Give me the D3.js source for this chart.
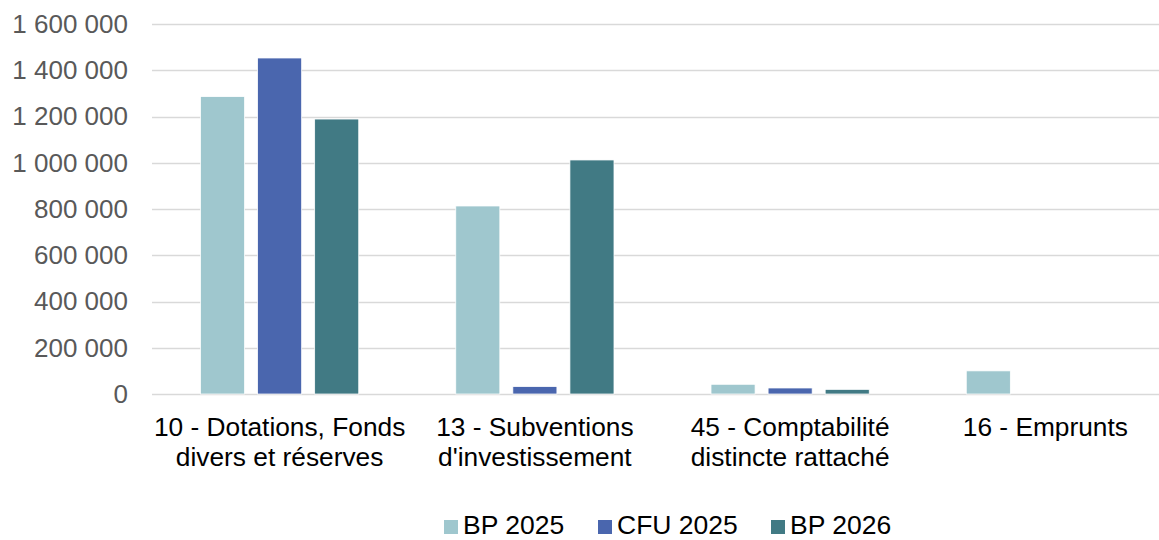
<!DOCTYPE html>
<html>
<head>
<meta charset="utf-8">
<script src="https://cdn.jsdelivr.net/npm/d3@7"></script>
<style>
  body { margin: 0; background: #fff; }
  text { font-family: "Liberation Sans", Arial, sans-serif; }
</style>
</head>
<body>
<div id="chart"></div>
<script>
const categories = [
  ["10 - Dotations, Fonds", "divers et réserves"],
  ["13 - Subventions", "d'investissement"],
  ["45 - Comptabilité", "distincte rattaché"],
  ["16 - Emprunts"]
];
const series = ["BP 2025", "CFU 2025", "BP 2026"];
const colors = ["#9fc7ce", "#4a66ae", "#417a84"];
const bp2025 = [1286000, 813000, 42000, 100000];
const cfu2025 = [1453000, 32000, 26000, 0];
const bp2026 = [1189000, 1012000, 20000, 0];
const yTicks = [0, 200000, 400000, 600000, 800000, 1000000, 1200000, 1400000, 1600000];

const values = [bp2025, cfu2025, bp2026];
const width = 1159, height = 540;

const svg = d3.select("#chart")
  .append("svg")
  .attr("width", width)
  .attr("height", height);

const x0 = d3.scaleBand()
  .domain(d3.range(categories.length))
  .range([152, 1173]);

const x1 = d3.scaleBand()
  .domain(d3.range(series.length))
  .range([0, x0.bandwidth()])
  .paddingInner(0.228)
  .paddingOuter(0.85);

const y = d3.scaleLinear()
  .domain([0, 1600000])
  .range([394, 24]);

const locale = d3.formatLocale({ decimal: ",", thousands: " ", grouping: [3], currency: ["", " €"] });
const fmt = locale.format(",d");

// gridlines
svg.append("g")
  .selectAll("line")
  .data(yTicks)
  .enter()
  .append("line")
  .attr("x1", 152)
  .attr("x2", width)
  .attr("y1", d => Math.round(y(d)) + 0.5)
  .attr("y2", d => Math.round(y(d)) + 0.5)
  .attr("stroke", "#d9d9d9")
  .attr("stroke-width", 1.5);

// y axis labels
const yAxis = svg.append("g")
  .attr("transform", "translate(128,0)")
  .call(d3.axisLeft(y).tickValues(yTicks).tickFormat(fmt).tickSize(0).tickPadding(0));
yAxis.select(".domain").remove();
yAxis.selectAll("text")
  .attr("fill", "#595959")
  .style("font-size", "26px")
  .style("font-family", "'Liberation Sans', Arial, sans-serif");

// bars
series.forEach((s, si) => {
  svg.append("g")
    .selectAll("rect")
    .data(values[si])
    .enter()
    .append("rect")
    .attr("x", (d, i) => x0(i) + x1(si))
    .attr("width", x1.bandwidth())
    .attr("y", d => y(d))
    .attr("height", d => y(0) - y(d))
    .attr("fill", colors[si])
    .attr("stroke", d => d > 0 ? "#fff" : "none")
    .attr("stroke-width", 0.75);
});

// category labels
const catG = svg.append("g");
categories.forEach((lines, i) => {
  const t = catG.append("text")
    .attr("x", x0(i) + x0.bandwidth() / 2)
    .attr("y", 436)
    .attr("text-anchor", "middle")
    .attr("fill", "#000")
    .style("font-size", "26.3px");
  lines.forEach((l, li) => {
    t.append("tspan")
      .attr("x", x0(i) + x0.bandwidth() / 2)
      .attr("dy", li === 0 ? 0 : 30)
      .text(l);
  });
});

// legend
const legendX = [444, 598, 771];
const legend = svg.append("g");
series.forEach((s, si) => {
  legend.append("rect")
    .attr("x", legendX[si])
    .attr("y", 520)
    .attr("width", 14)
    .attr("height", 14)
    .attr("fill", colors[si]);
  legend.append("text")
    .attr("x", legendX[si] + 19)
    .attr("y", 534)
    .attr("fill", "#000")
    .style("font-size", "26.5px")
    .text(s);
});
</script>
</body>
</html>
